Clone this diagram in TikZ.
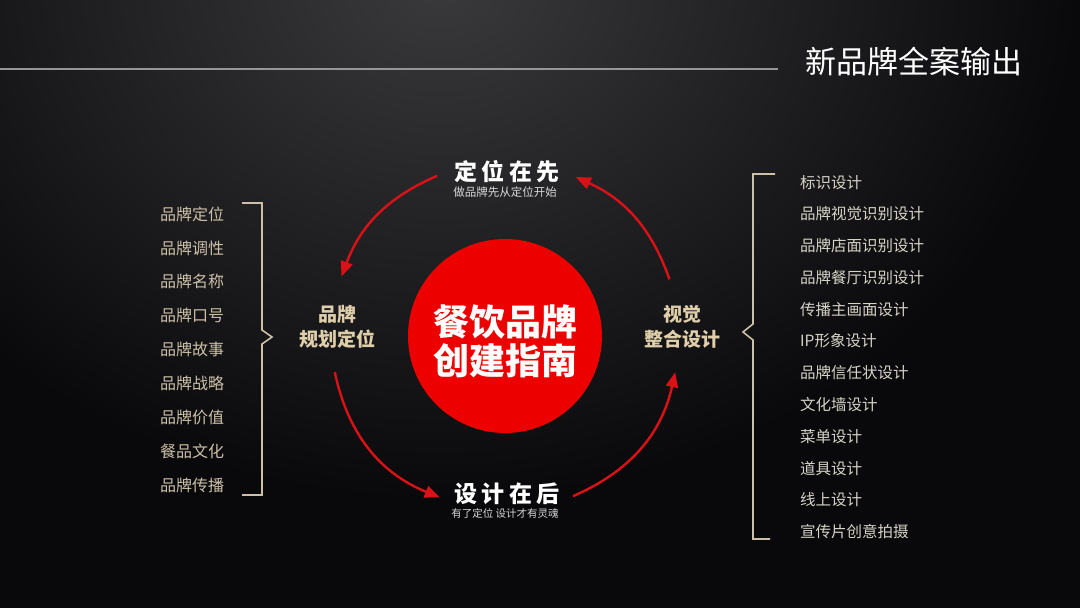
\documentclass[tikz,border=0pt]{standalone}
\usepackage{fontspec}
\newfontfamily\cjk{Noto Sans CJK SC}
\usetikzlibrary{arrows.meta}
\usetikzlibrary{calc}

\definecolor{bgdark}{RGB}{9,9,11}
\definecolor{bgglow}{RGB}{58,58,60}
\definecolor{hubred}{RGB}{236,0,0}
\definecolor{ringred}{RGB}{218,18,24}
\definecolor{sand}{RGB}{222,206,170}
\definecolor{itemsand}{RGB}{204,192,168}
\definecolor{itemgrey}{RGB}{214,210,200}
\definecolor{rulegrey}{RGB}{150,150,150}

\tikzset{
  hubdisc/.style={circle, fill=hubred, minimum size=194pt, inner sep=0pt},
  hubtext/.style={text=white, align=center, inner sep=0pt,
    font=\cjk\bfseries\fontsize{36}{39}\selectfont},
  stepname/.style={text=white, inner sep=0pt,
    font=\cjk\bfseries\fontsize{23}{23}\selectfont\addfontfeatures{LetterSpace=18}},
  stepnote/.style={text=white!85!black, inner sep=0pt, font=\cjk\fontsize{11.5}{12}\selectfont},
  stagename/.style={text=sand, align=center, inner sep=0pt, font=\cjk\bfseries\fontsize{19}{25}\selectfont},
  leftitem/.style={anchor=west, text=itemsand, inner sep=0pt, font=\cjk\fontsize{16}{16}\selectfont},
  rightitem/.style={anchor=west, text=itemgrey, inner sep=0pt, font=\cjk\fontsize{15.5}{16}\selectfont},
  ring/.style={draw=ringred, line width=2.4pt, -{Triangle[length=15pt,width=12pt]}},
  brace/.style={draw=itemsand, line width=1.6pt},
}

\begin{document}
\begin{tikzpicture}[x=1pt,y=-1pt]

    % \draw [help lines,step=50] (0,0) grid (1080,608);

    \useasboundingbox (0,0) rectangle (1080,608);
    \fill[bgdark] (0,0) rectangle (1080,608);
    \begin{scope}
        \clip (0,0) rectangle (1080,608);
        \shade[inner color=bgglow, outer color=bgdark] (440,-20) ellipse [x radius=640, y radius=520];
    \end{scope}

    % header
    \draw[rulegrey, line width=1.8pt] (0,69) -- (778,69);
    \path (914,62) node (title) [text=white, font=\cjk\fontsize{31}{31}\selectfont] {新品牌全案输出};

    % centre and the four stages
    \path   (505,336) node (hub) [hubdisc] {}
            (505,341) node (hubname) [hubtext] {餐饮品牌\\创建指南}
            (507,172) node (first) [stepname] {定位在先}
            (505,192) node (firstnote) [stepnote] {做品牌先从定位开始}
            (507,494) node (second) [stepname] {设计在后}
            (505,513) node (secondnote) [stepnote, font=\cjk\fontsize{10.5}{11}\selectfont] {有了定位\ 设计才有灵魂}
            (337,327) node (plan) [stagename] {品牌\\规划定位}
            (682,327) node (visual) [stagename] {视觉\\整合设计};

    \coordinate (r1) at ($(hub)+(247:174)$);
    \coordinate (r2) at ($(hub)+(200:174)$);
    \coordinate (r3) at ($(hub)+(168:174)$);
    \coordinate (r4) at ($(hub)+(112:174)$);
    \coordinate (r5) at ($(hub)+(67:174)$);
    \coordinate (r6) at ($(hub)+(12:174)$);
    \coordinate (r7) at ($(hub)+(341:174)$);
    \coordinate (r8) at ($(hub)+(294:174)$);

    \draw[ring] (r1) to[bend right=23] (r2);
    \draw[ring] (r3) to[bend right=28] (r4);
    \draw[ring] (r5) to[bend right=27] (r6);
    \draw[ring] (r7) to[bend right=23] (r8);

    % left list
    \path   (160,214) node (p1) [leftitem] {品牌定位}
            (160,248) node (p2) [leftitem] {品牌调性}
            (160,281) node (p3) [leftitem] {品牌名称}
            (160,315) node (p4) [leftitem] {品牌口号}
            (160,349) node (p5) [leftitem] {品牌故事}
            (160,383) node (p6) [leftitem] {品牌战略}
            (160,417) node (p7) [leftitem] {品牌价值}
            (160,451) node (p8) [leftitem] {餐品文化}
            (160,485) node (p9) [leftitem] {品牌传播};

    \draw[brace] (242,203) -- (262,203) -- (262,330) -- (272,337) -- (262,344) -- (262,495) -- (242,495);

    % right list
    \path   (800,183) node (v1) [rightitem] {标识设计}
            (800,214) node (v2) [rightitem] {品牌视觉识别设计}
            (800,246) node (v3) [rightitem] {品牌店面识别设计}
            (800,278) node (v4) [rightitem] {品牌餐厅识别设计}
            (800,310) node (v5) [rightitem] {传播主画面设计}
            (800,341) node (v6) [rightitem] {IP形象设计}
            (800,373) node (v7) [rightitem] {品牌信任状设计}
            (800,405) node (v8) [rightitem] {文化墙设计}
            (800,437) node (v9) [rightitem] {菜单设计}
            (800,469) node (v10) [rightitem] {道具设计}
            (800,500) node (v11) [rightitem] {线上设计}
            (800,532) node (v12) [rightitem] {宣传片创意拍摄};

    \draw[brace] (775,174) -- (753,174) -- (753,324) -- (743,332) -- (753,340) -- (753,539) -- (770,539);

\end{tikzpicture}
\end{document}
